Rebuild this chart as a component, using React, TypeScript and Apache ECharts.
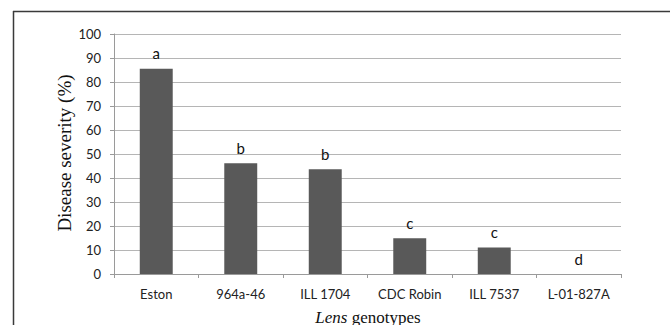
import React, { useEffect, useRef } from "react";
import * as echarts from "echarts";

const categories = ["Eston", "964a-46", "ILL 1704", "CDC Robin", "ILL 7537", "L-01-827A"];
const severity = [85.5, 46.1, 43.6, 14.9, 11.0, 0];
const letters = ["a", "b", "b", "c", "c", "d"];
const yTicks = { min: 0, max: 100, interval: 10 };

export default function App() {
  const ref = useRef<HTMLDivElement>(null);
  useEffect(() => {
    if (!ref.current) return;
    const chart = echarts.init(ref.current, null, { renderer: "svg" });
    chart.setOption({
      animation: false,
      backgroundColor: "#ffffff",
      grid: { left: 114, right: 49, top: 34, bottom: 51 },
      xAxis: {
        type: "category",
        data: categories,
        axisLine: { show: true, lineStyle: { color: "#9a9a9a", width: 1 } },
        axisTick: { show: true, length: 4, lineStyle: { color: "#9a9a9a" } },
        axisLabel: { color: "#222", fontSize: 13, fontFamily: "Lato", margin: 13 },
      },
      yAxis: {
        type: "value",
        min: yTicks.min,
        max: yTicks.max,
        interval: yTicks.interval,
        axisLine: { show: true, lineStyle: { color: "#9a9a9a", width: 1 } },
        axisTick: { show: true, length: 4, lineStyle: { color: "#9a9a9a" } },
        axisLabel: { color: "#222", fontSize: 13, fontFamily: "Lato", margin: 13 },
        splitLine: { show: true, lineStyle: { color: "#b5b5b5", width: 1.2 } },
      },
      series: [
        {
          type: "bar",
          data: severity,
          barCategoryGap: "61%",
          itemStyle: { color: "#595959" },
          label: {
            show: true,
            position: "top",
            distance: 8,
            fontFamily: "Lato",
            fontSize: 15,
            color: "#111",
            formatter: (p: any) => letters[p.dataIndex],
          },
        },
      ],
      graphic: [
        {
          type: "line",
          shape: { x1: 13, y1: 11.5, x2: 670, y2: 11.5 },
          style: { stroke: "#3a3a3a", lineWidth: 1.5 },
          silent: true,
        },
        {
          type: "line",
          shape: { x1: 13.5, y1: 11, x2: 13.5, y2: 325 },
          style: { stroke: "#3a3a3a", lineWidth: 1.5 },
          silent: true,
        },
        {
          type: "text",
          x: 64,
          y: 153,
          rotation: Math.PI / 2,
          style: {
            text: "Disease severity (%)",
            align: "center",
            verticalAlign: "middle",
            fontFamily: "Liberation Serif",
            fontSize: 19,
            fill: "#111",
          },
        },
        {
          type: "text",
          x: 368,
          y: 317,
          style: {
            text: "{i|Lens} genotypes",
            align: "center",
            verticalAlign: "middle",
            fontFamily: "Liberation Serif",
            fontSize: 17,
            fill: "#111",
            rich: {
              i: { fontFamily: "Liberation Serif", fontStyle: "italic", fontSize: 17, fill: "#111" },
            },
          },
        },
      ],
    });
    return () => chart.dispose();
  }, []);
  return (
    <div
      ref={ref}
      style={{ position: "fixed", left: 0, top: 0, width: 670, height: 325 }}
    />
  );
}
